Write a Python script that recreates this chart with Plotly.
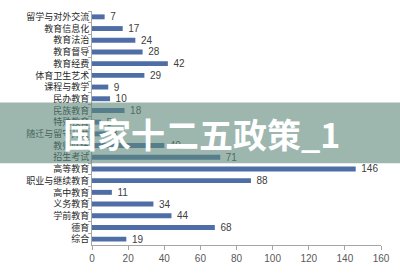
import plotly.graph_objects as go

categories = ["留学与对外交流", "教育信息化", "教育法治", "教育督导", "教育经费",
              "体育卫生艺术", "课程与教学", "民办教育", "民族教育", "特殊教育",
              "随迁与留守儿童", "教师队伍", "招生考试", "高等教育", "职业与继续教育",
              "高中教育", "义务教育", "学前教育", "德育", "综合"]
values = [7, 17, 24, 28, 42, 29, 9, 10, 18, 5, 8, 40, 71, 146, 88, 11, 34, 44, 68, 19]
x_ticks = [0, 20, 40, 60, 80, 100, 120, 140, 160]
title_text = "国家十二五政策_1"

W, H = 400, 274
ml, mr, mt, mb = 92, 18, 10, 21
ph = H - mt - mb
pw = W - ml - mr

def py(pix):
    return (H - mb - pix) / ph

def px(pix):
    return (pix - ml) / pw

fig = go.Figure(go.Bar(
    x=values, y=categories, orientation="h",
    marker=dict(color="#4F6EA6", line=dict(width=0)),
    width=0.42,
    texttemplate="\u00a0\u00a0%{x}", textposition="outside",
    constraintext="none",
    textfont=dict(family="Liberation Sans, Arial", size=10, color="#404040"),
    cliponaxis=False,
))

fig.update_layout(
    width=W, height=H,
    margin=dict(l=ml, r=mr, t=mt, b=mb),
    paper_bgcolor="white", plot_bgcolor="white",
    showlegend=False,
    xaxis=dict(range=[0, 160], tickvals=x_ticks, showgrid=False, zeroline=False,
               showline=True, linecolor="#A6A6A6", linewidth=1,
               ticks="outside", ticklen=4, tickcolor="#A6A6A6",
               tickfont=dict(family="Liberation Sans, Arial", size=10, color="#595959")),
    yaxis=dict(autorange="reversed", categoryorder="array", categoryarray=categories,
               showgrid=False, zeroline=False, showline=True, linecolor="#A6A6A6",
               linewidth=1, ticks="outside", ticklen=3, tickcolor="#A6A6A6",
               tickson="boundaries",
               tickfont=dict(family="Noto Sans CJK SC", size=9, color="#262626")),
    shapes=[dict(type="rect", xref="paper", yref="paper",
                 x0=-0.4, x1=1.1, y0=py(168), y1=py(105),
                 fillcolor="rgba(92,135,122,0.6)", line=dict(width=0), layer="above")],
    annotations=[dict(text=title_text, xref="paper", yref="paper",
                      x=px(202), y=py(137.5), showarrow=False,
                      xanchor="center", yanchor="middle",
                      font=dict(family="Noto Sans CJK SC", size=34, color="white"))],
)
fig.update_annotations(font_weight="bold")

fig.write_html("out.html")
